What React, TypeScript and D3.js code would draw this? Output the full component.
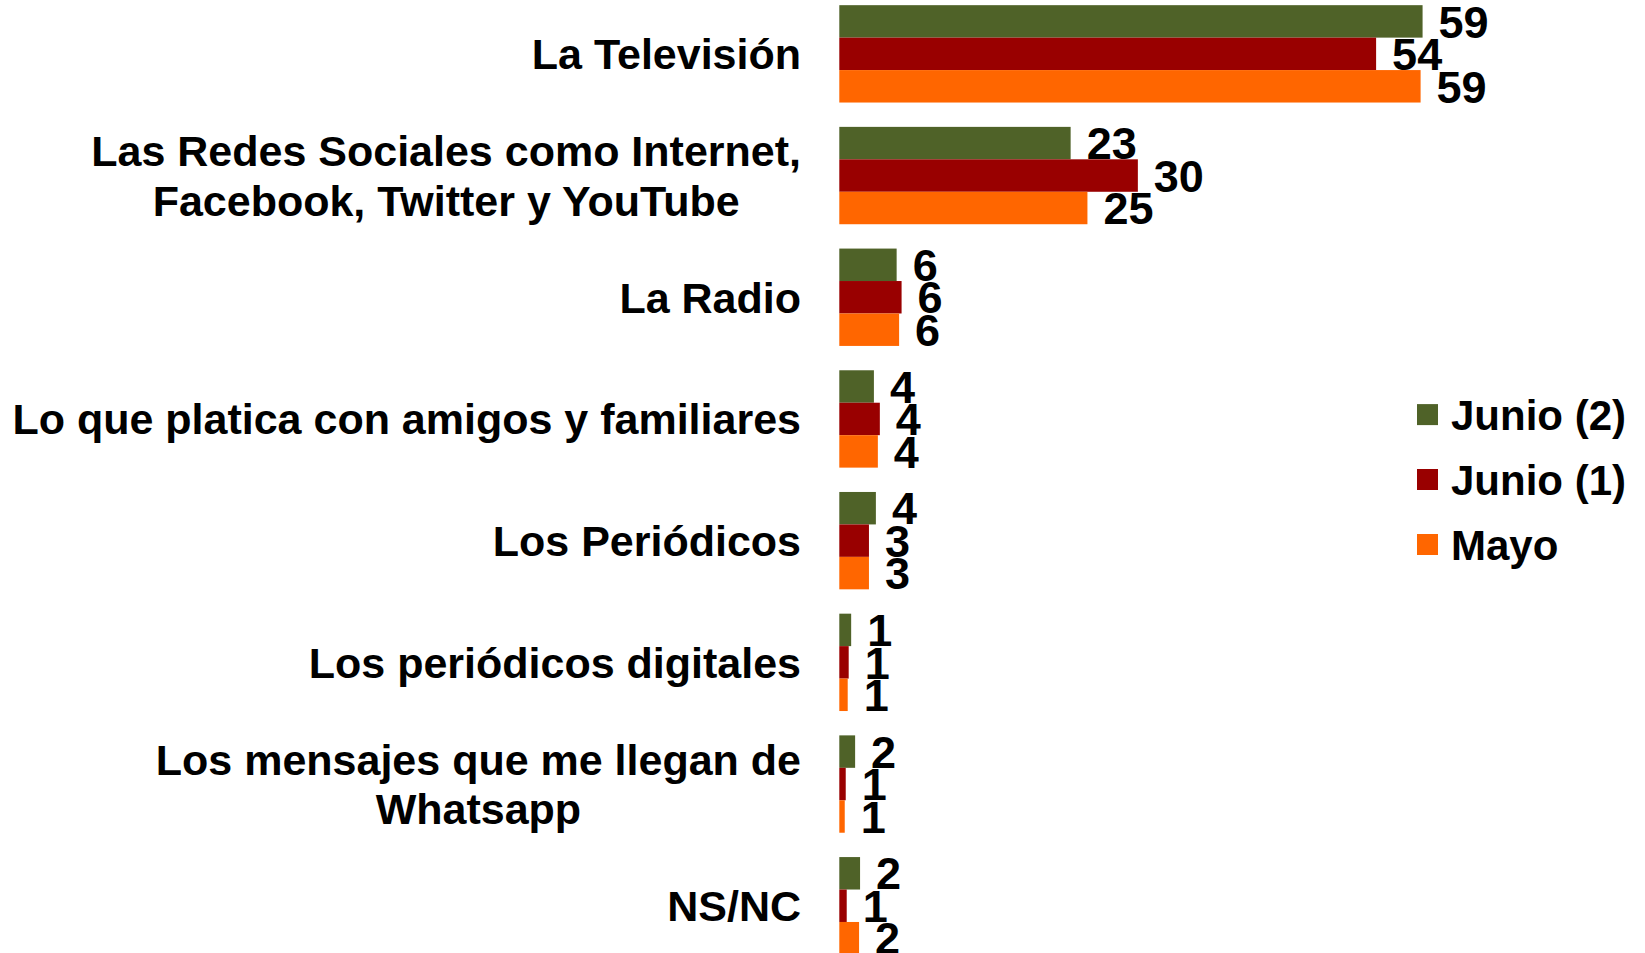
import React, { useEffect, useRef } from "react";
import * as d3 from "d3";

const categories: string[][] = [
  ["La Televisión"],
  ["Las Redes Sociales como Internet,", "Facebook, Twitter y YouTube"],
  ["La Radio"],
  ["Lo que platica con amigos y familiares"],
  ["Los Periódicos"],
  ["Los periódicos digitales"],
  ["Los mensajes que me llegan de", "Whatsapp"],
  ["NS/NC"],
];

const seriesNames = ["Junio (2)", "Junio (1)", "Mayo"];
const seriesColors = ["#4F6228", "#990000", "#FF6600"];

const junio2 = [59.0, 23.4, 5.8, 3.5, 3.7, 1.2, 1.6, 2.1];
const junio1 = [54.3, 30.2, 6.3, 4.1, 3.0, 0.95, 0.65, 0.75];
const mayo = [58.8, 25.1, 6.05, 3.9, 3.0, 0.85, 0.55, 2.0];

const labelsJunio2 = [59, 23, 6, 4, 4, 1, 2, 2];
const labelsJunio1 = [54, 30, 6, 4, 3, 1, 1, 1];
const labelsMayo = [59, 25, 6, 4, 3, 1, 1, 2];

const W = 1645;
const H = 953;
const FONT = "'Liberation Sans', Arial, Helvetica, sans-serif";

export default function App() {
  const ref = useRef<SVGSVGElement | null>(null);

  useEffect(() => {
    const svg = d3.select(ref.current);
    svg.selectAll("*").remove();

    const values = [junio2, junio1, mayo];
    const labels = [labelsJunio2, labelsJunio1, labelsMayo];
    const idx = categories.map((_, i) => String(i));

    const step = 121.7;
    const y0 = -7;
    const y = d3
      .scaleBand<string>()
      .domain(idx)
      .range([y0, y0 + step * categories.length])
      .paddingInner(0.2)
      .paddingOuter(0.1);
    const ys = d3
      .scaleBand<string>()
      .domain(seriesNames)
      .range([0, y.bandwidth()])
      .padding(0);

    const x0 = 839.3;
    const x = d3.scaleLinear().domain([0, 60]).range([x0, x0 + 60 * 9.886]);

    const g = svg.append("g");

    // bars
    seriesNames.forEach((s, si) => {
      const gs = g.append("g");
      gs.selectAll("rect")
        .data(values[si])
        .join("rect")
        .attr("x", x(0))
        .attr("y", (_d, i) => (y(String(i)) as number) + (ys(s) as number))
        .attr("width", (d) => x(d) - x(0))
        .attr("height", ys.bandwidth())
        .attr("fill", seriesColors[si]);
    });

    // data labels
    seriesNames.forEach((s, si) => {
      g.append("g")
        .selectAll("text")
        .data(values[si])
        .join("text")
        .attr("x", (d) => x(d) + 16)
        .attr("y", (_d, i) => (y(String(i)) as number) + (ys(s) as number) + ys.bandwidth() / 2)
        .attr("dy", "0.36em")
        .attr("font-family", FONT)
        .attr("font-weight", "bold")
        .attr("font-size", 45)
        .attr("fill", "#000")
        .text((_d, i) => String(labels[si][i]));
    });

    // category labels
    const right = 801;
    const lineH = 49.3;
    categories.forEach((lines, i) => {
      const cy = (y(String(i)) as number) + y.bandwidth() / 2;
      const tg = g.append("g");
      const texts = lines.map((ln, li) =>
        tg
          .append("text")
          .attr("y", cy + (li - (lines.length - 1) / 2) * lineH)
          .attr("dy", "0.36em")
          .attr("font-family", FONT)
          .attr("font-weight", "bold")
          .attr("font-size", 43)
          .attr("fill", "#000")
          .text(ln)
      );
      const widths = texts.map((t) => (t.node() as SVGTextElement).getComputedTextLength());
      const maxW = Math.max(...widths);
      texts.forEach((t) => {
        t.attr("text-anchor", "middle").attr("x", right - maxW / 2);
      });
    });

    // legend
    const lg = g.append("g");
    const legY = [414.6, 479.5, 544.5];
    seriesNames.forEach((s, si) => {
      lg.append("rect")
        .attr("x", 1417)
        .attr("y", legY[si] - 10.5)
        .attr("width", 21)
        .attr("height", 21)
        .attr("fill", seriesColors[si]);
      lg.append("text")
        .attr("x", 1451)
        .attr("y", legY[si])
        .attr("dy", "0.36em")
        .attr("font-family", FONT)
        .attr("font-weight", "bold")
        .attr("font-size", 42)
        .attr("fill", "#000")
        .text(s);
    });
  }, []);

  return (
    <svg
      ref={ref}
      width={W}
      height={H}
      style={{ position: "absolute", left: 0, top: 0, background: "#fff" }}
    />
  );
}
